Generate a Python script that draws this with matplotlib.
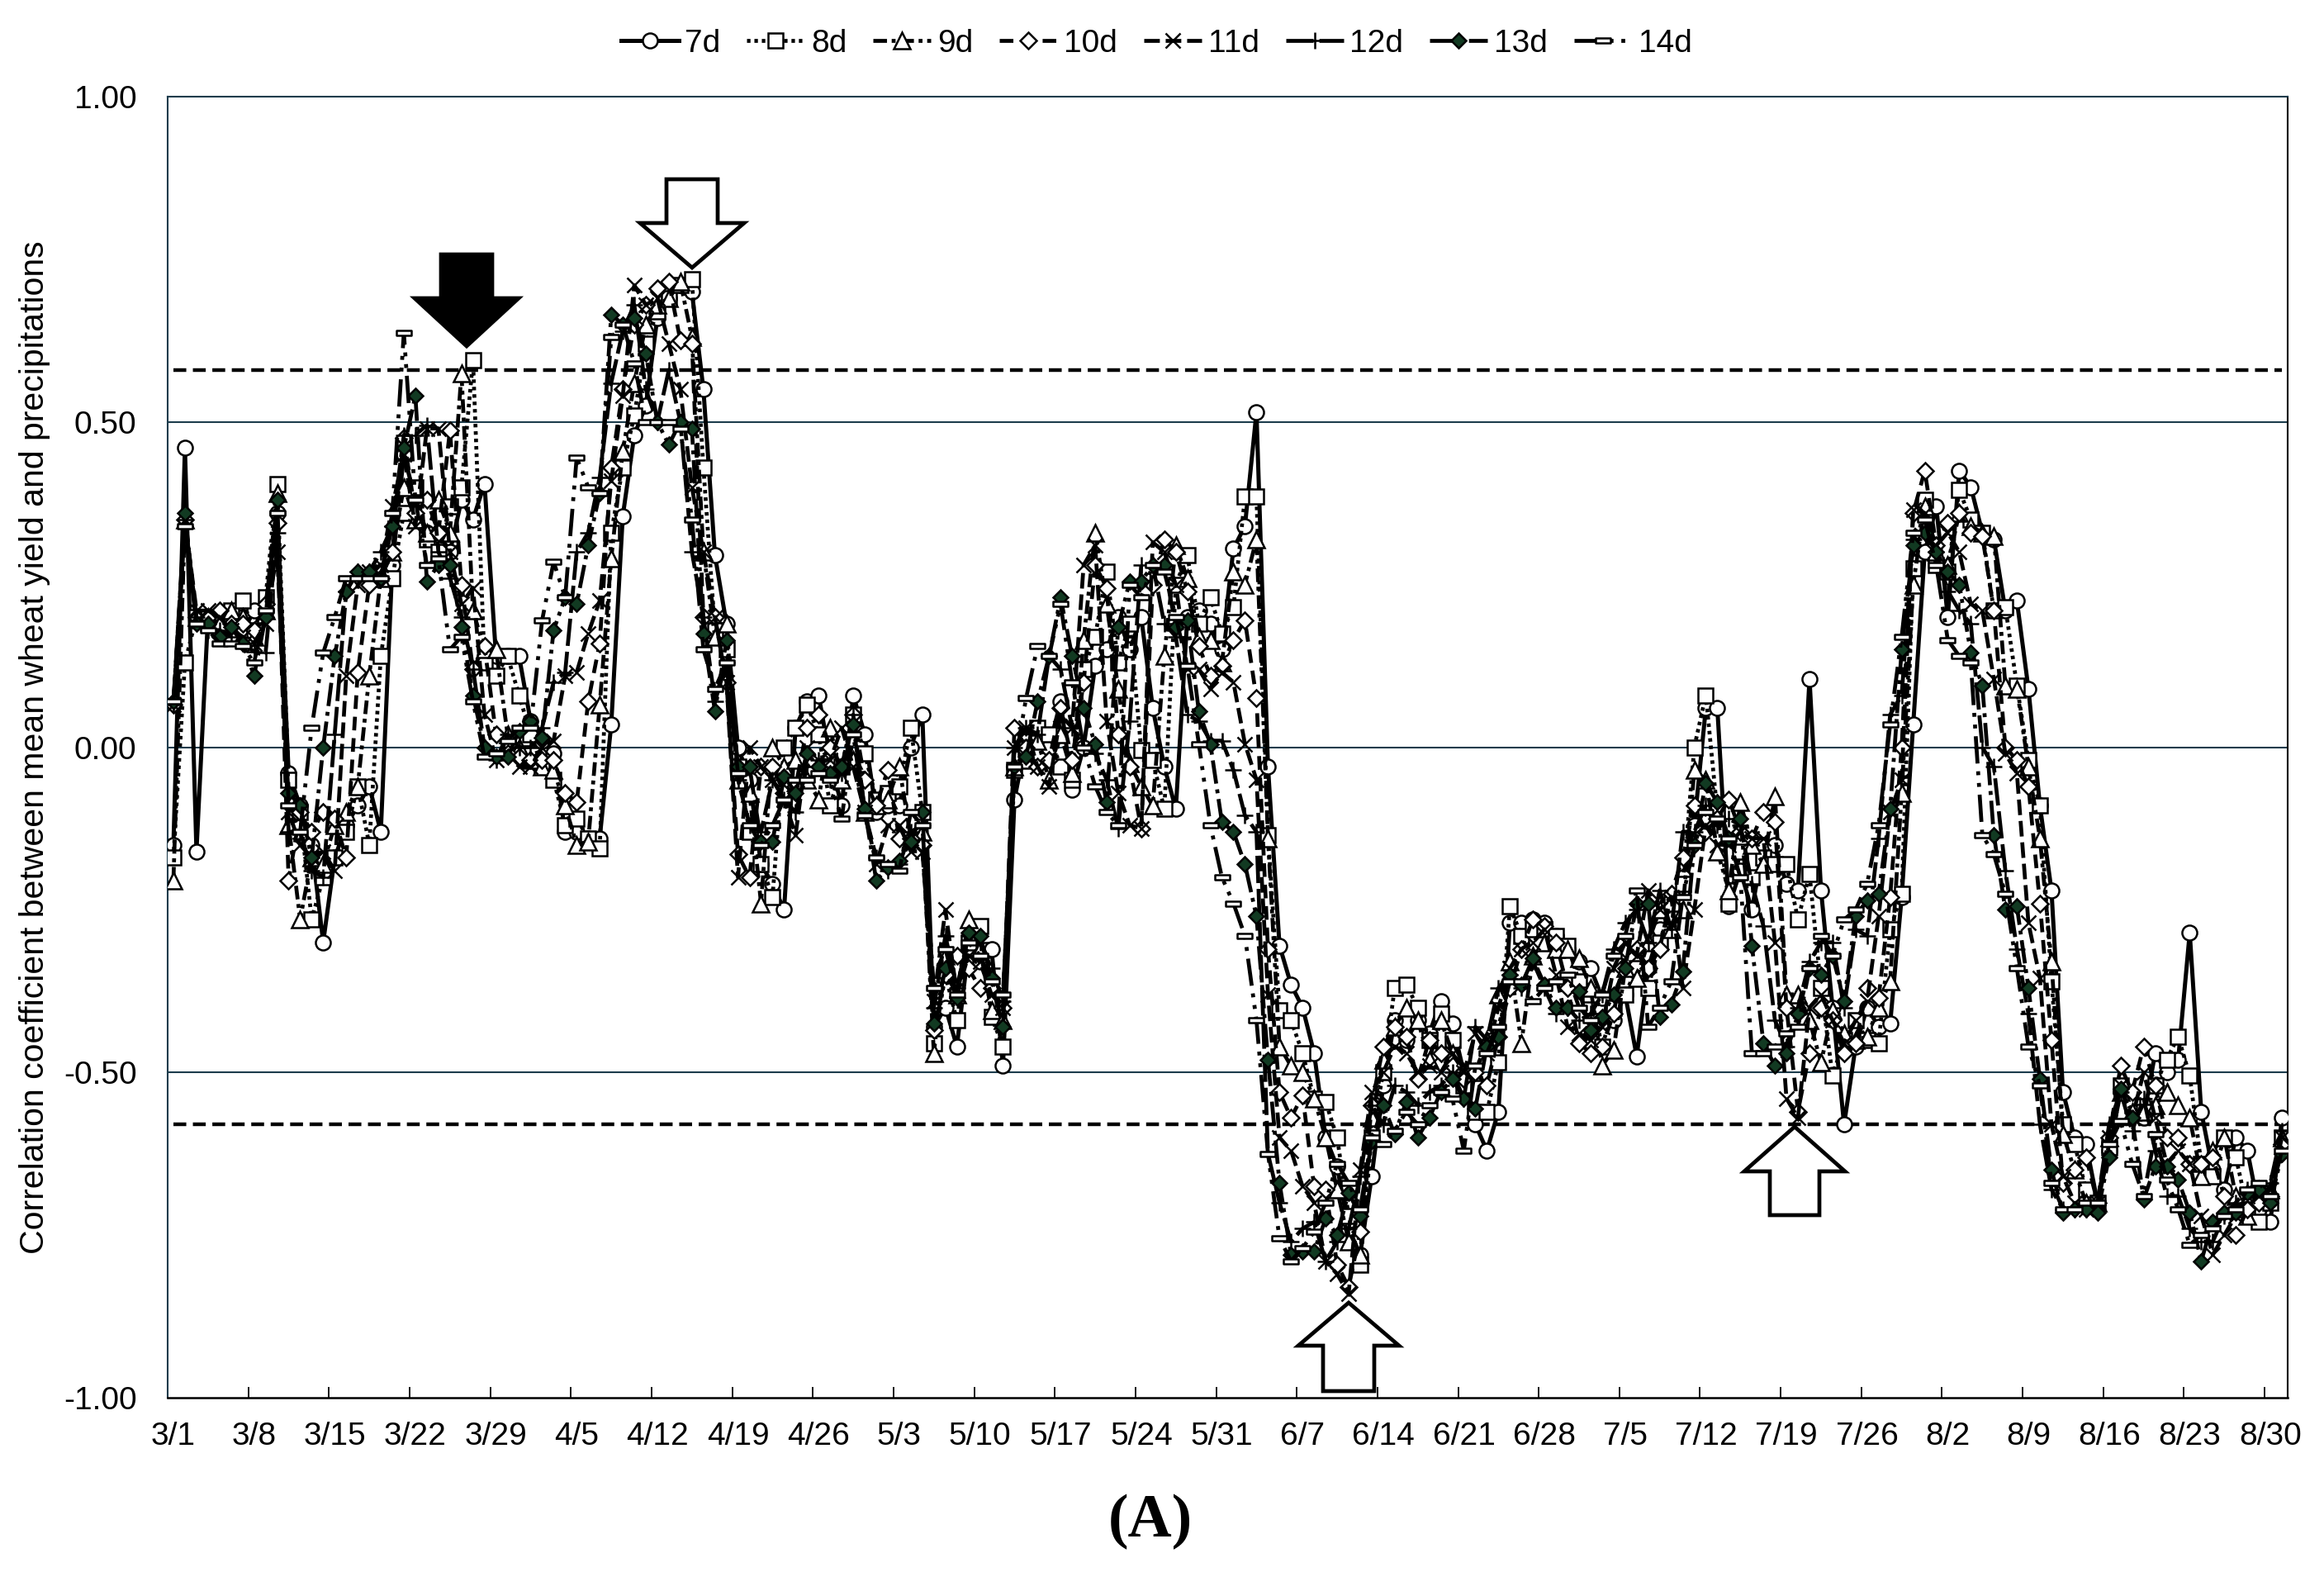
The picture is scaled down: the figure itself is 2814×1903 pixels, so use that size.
import matplotlib
matplotlib.use("Agg")
import matplotlib.pyplot as plt
from matplotlib.path import Path
from matplotlib.patches import Polygon

W, H = 2814, 1903

# etiquetas del eje x, una cada 7 dias
tick_labels = ["3/1", "3/8", "3/15", "3/22", "3/29", "4/5", "4/12", "4/19", "4/26",
               "5/3", "5/10", "5/17", "5/24", "5/31", "6/7", "6/14", "6/21", "6/28",
               "7/5", "7/12", "7/19", "7/26", "8/2", "8/9", "8/16", "8/23", "8/30"]
y_ticks = [-1.0, -0.5, 0.0, 0.5, 1.0]
signif = 0.58

d7 = [-0.15, 0.46, -0.16, 0.20, 0.20, 0.19, 0.20, 0.21, 0.21, 0.36,
      -0.04, -0.09, -0.15, -0.30, -0.17, -0.12, -0.09, -0.06, -0.13, 0.28,
      0.45, 0.38, 0.33, 0.33, 0.30, 0.38, 0.35, 0.405, 0.14, 0.14,
      0.14, 0.04, 0.01, -0.01, -0.13, -0.13, -0.14, -0.14, 0.035, 0.355,
      0.48, 0.525, 0.66, 0.69, 0.71, 0.70, 0.55, 0.295, 0.19, 0.0,
      -0.05, -0.18, -0.21, -0.25, 0.03, 0.07, 0.08, -0.02, -0.09, 0.08,
      0.02, -0.10, -0.09, -0.09, 0.0, 0.05, -0.43, -0.40, -0.46, -0.31,
      -0.33, -0.31, -0.49, -0.08, 0.01, 0.02, 0.0, 0.07, -0.065, 0.0,
      0.125, 0.15, 0.20, 0.15, 0.20, 0.06, -0.03, -0.095, 0.20, 0.21,
      0.19, 0.15, 0.305, 0.34, 0.515, -0.03, -0.305, -0.365, -0.40, -0.47,
      -0.60, -0.645, -0.74, -0.78, -0.66, -0.52, -0.42, -0.45, -0.42, -0.44,
      -0.39, -0.425, -0.50, -0.58, -0.62, -0.56, -0.27, -0.27, -0.265, -0.27,
      -0.29, -0.31, -0.33, -0.34, -0.385, -0.42, -0.38, -0.475, -0.34, -0.28,
      -0.26, -0.20, -0.12, 0.06, 0.06, -0.245, -0.19, -0.25, -0.15, -0.15,
      -0.21, -0.22, 0.105, -0.22, -0.40, -0.58, -0.46, -0.40, -0.43, -0.425,
      -0.23, 0.035, 0.30, 0.37, 0.20, 0.425, 0.40, 0.33, 0.32, 0.21,
      0.225, 0.09, -0.09, -0.22, -0.53, -0.60, -0.61, -0.70, -0.62, -0.53,
      -0.55, -0.57, -0.47, -0.50, -0.48, -0.285, -0.56, -0.65, -0.68, -0.60,
      -0.62, -0.71, -0.73, -0.57]

d8 = [-0.17, 0.13, 0.20, 0.20, 0.20, 0.21, 0.225, 0.18, 0.23, 0.405,
      -0.05, -0.10, -0.265, -0.20, -0.17, -0.13, -0.06, -0.15, 0.14, 0.26,
      0.36, 0.40, 0.32, 0.30, 0.37, 0.40, 0.595, 0.13, 0.11, 0.14,
      0.08, 0.02, -0.03, -0.05, -0.12, -0.11, -0.14, -0.155, 0.33, 0.43,
      0.51, 0.62, 0.67, 0.69, 0.71, 0.72, 0.43, 0.18, 0.15, -0.03,
      -0.13, -0.18, -0.23, 0.0, 0.03, 0.065, 0.02, -0.09, -0.03, 0.05,
      -0.01, -0.08, -0.07, -0.06, 0.03, -0.10, -0.455, -0.35, -0.42, -0.30,
      -0.275, -0.415, -0.46, -0.035, 0.0, 0.03, 0.02, -0.03, -0.05, 0.12,
      0.17, 0.27, 0.13, 0.19, -0.005, -0.02, -0.095, 0.25, 0.295, 0.19,
      0.23, 0.175, 0.215, 0.385, 0.385, -0.135, -0.405, -0.42, -0.47, -0.54,
      -0.545, -0.60, -0.72, -0.795, -0.60, -0.50, -0.37, -0.365, -0.40, -0.45,
      -0.41, -0.45, -0.52, -0.56, -0.56, -0.485, -0.245, -0.29, -0.28, -0.28,
      -0.29, -0.305, -0.36, -0.38, -0.46, -0.40, -0.38, -0.34, -0.37, -0.30,
      -0.24, -0.21, 0.0, 0.08, -0.10, -0.24, -0.16, -0.20, -0.17, -0.18,
      -0.18, -0.265, -0.195, -0.37, -0.505, -0.45, -0.42, -0.45, -0.455, -0.28,
      -0.225, 0.275, 0.38, 0.28, 0.27, 0.395, 0.35, 0.33, 0.21, 0.215,
      0.095, -0.02, -0.09, -0.36, -0.58, -0.61, -0.68, -0.70, -0.615, -0.52,
      -0.55, -0.56, -0.52, -0.48, -0.445, -0.505, -0.64, -0.66, -0.60, -0.63,
      -0.71, -0.73, -0.70, -0.60]

d9 = [-0.205, 0.35, 0.20, 0.20, 0.19, 0.21, 0.20, 0.17, 0.21, 0.39,
      -0.12, -0.265, -0.17, -0.18, -0.12, -0.10, -0.06, 0.11, 0.26, 0.30,
      0.40, 0.35, 0.33, 0.38, 0.33, 0.575, 0.21, 0.15, 0.15, 0.02,
      0.0, -0.02, -0.03, -0.035, -0.09, -0.15, -0.145, 0.065, 0.29, 0.455,
      0.56, 0.65, 0.68, 0.69, 0.715, 0.63, 0.30, 0.17, 0.19, -0.05,
      -0.07, -0.24, 0.0, -0.03, -0.02, -0.05, -0.08, 0.03, -0.05, -0.02,
      -0.10, -0.09, -0.08, -0.03, -0.14, -0.13, -0.47, -0.32, -0.38, -0.265,
      -0.31, -0.405, -0.42, -0.03, -0.02, 0.01, -0.05, 0.02, -0.04, 0.165,
      0.33, 0.22, 0.09, -0.025, -0.06, -0.09, 0.14, 0.31, 0.26, 0.17,
      0.165, 0.13, 0.27, 0.25, 0.32, -0.14, -0.46, -0.49, -0.50, -0.54,
      -0.60, -0.68, -0.76, -0.78, -0.57, -0.48, -0.43, -0.40, -0.42, -0.48,
      -0.42, -0.47, -0.50, -0.50, -0.45, -0.38, -0.33, -0.455, -0.32, -0.30,
      -0.31, -0.31, -0.325, -0.37, -0.49, -0.465, -0.34, -0.355, -0.30, -0.25,
      -0.28, -0.25, -0.035, -0.05, -0.16, -0.22, -0.085, -0.15, -0.18, -0.075,
      -0.38, -0.38, -0.42, -0.485, -0.405, -0.44, -0.45, -0.445, -0.40, -0.36,
      -0.07, 0.25, 0.37, 0.30, 0.28, 0.36, 0.34, 0.33, 0.325, 0.095,
      0.09, -0.03, -0.14, -0.33, -0.595, -0.65, -0.70, -0.70, -0.60, -0.53,
      -0.56, -0.56, -0.55, -0.53, -0.55, -0.57, -0.66, -0.62, -0.60, -0.69,
      -0.72, -0.68, -0.68, -0.60]

d10 = [0.065, 0.35, 0.20, 0.20, 0.21, 0.19, 0.19, 0.18, 0.22, 0.345,
       -0.205, -0.10, -0.13, -0.10, -0.11, -0.17, 0.115, 0.25, 0.26, 0.30,
       0.475, 0.36, 0.38, 0.33, 0.487, 0.25, 0.12, 0.155, 0.02, -0.01,
       -0.015, -0.02, -0.02, -0.02, -0.07, -0.085, 0.07, 0.16, 0.43, 0.55,
       0.65, 0.68, 0.705, 0.715, 0.625, 0.62, 0.20, 0.20, 0.10, -0.165,
       -0.20, -0.03, -0.03, -0.07, -0.06, 0.03, 0.05, 0.0, -0.03, 0.05,
       -0.05, -0.09, -0.035, -0.14, -0.14, -0.15, -0.435, -0.35, -0.32, -0.34,
       -0.37, -0.37, -0.40, 0.03, 0.0, -0.03, -0.02, 0.06, -0.02, 0.10,
       0.28, 0.245, 0.02, -0.03, -0.125, 0.25, 0.32, 0.30, 0.24, 0.155,
       0.11, 0.125, 0.165, 0.195, 0.075, -0.31, -0.53, -0.57, -0.535, -0.675,
       -0.68, -0.795, -0.83, -0.745, -0.55, -0.46, -0.43, -0.445, -0.51, -0.45,
       -0.47, -0.49, -0.51, -0.50, -0.52, -0.445, -0.37, -0.31, -0.265, -0.275,
       -0.30, -0.37, -0.455, -0.47, -0.46, -0.41, -0.31, -0.31, -0.34, -0.31,
       -0.225, -0.17, -0.09, -0.13, -0.11, -0.08, -0.13, -0.14, -0.10, -0.115,
       -0.40, -0.56, -0.47, -0.40, -0.42, -0.47, -0.455, -0.37, -0.385, -0.23,
       0.0, 0.36, 0.425, 0.31, 0.345, 0.36, 0.33, 0.325, 0.21, 0.0,
       -0.02, -0.06, -0.24, -0.45, -0.67, -0.65, -0.63, -0.70, -0.60, -0.49,
       -0.53, -0.46, -0.52, -0.60, -0.60, -0.64, -0.64, -0.63, -0.69, -0.75,
       -0.71, -0.70, -0.69, -0.61]

d11 = [0.065, 0.35, 0.21, 0.21, 0.20, 0.18, 0.17, 0.16, 0.19, 0.30,
       -0.10, -0.15, -0.17, -0.16, -0.19, 0.11, 0.25, 0.27, 0.28, 0.37,
       0.45, 0.34, 0.49, 0.49, 0.30, 0.22, 0.245, 0.05, -0.02, -0.01,
       -0.03, -0.03, 0.0, 0.01, 0.11, 0.115, 0.175, 0.225, 0.41, 0.54,
       0.71, 0.68, 0.69, 0.62, 0.55, 0.40, 0.30, 0.20, 0.10, -0.20,
       0.0, -0.03, -0.05, -0.08, -0.135, 0.0, -0.02, -0.02, 0.03, -0.03,
       -0.10, -0.18, -0.12, -0.12, -0.16, -0.16, -0.39, -0.25, -0.38, -0.32,
       -0.33, -0.38, -0.40, 0.0, 0.03, -0.03, -0.06, 0.05, 0.03, 0.28,
       0.31, 0.04, -0.07, -0.12, -0.125, 0.315, 0.30, 0.25, 0.12, 0.12,
       0.09, 0.115, 0.10, 0.005, -0.05, -0.38, -0.60, -0.62, -0.675, -0.70,
       -0.79, -0.81, -0.84, -0.65, -0.53, -0.50, -0.46, -0.47, -0.50, -0.49,
       -0.50, -0.47, -0.50, -0.44, -0.47, -0.40, -0.34, -0.31, -0.30, -0.28,
       -0.35, -0.43, -0.44, -0.45, -0.43, -0.34, -0.30, -0.32, -0.22, -0.25,
       -0.23, -0.37, -0.25, -0.12, -0.15, -0.15, -0.13, -0.14, -0.14, -0.30,
       -0.54, -0.57, -0.40, -0.38, -0.42, -0.455, -0.42, -0.39, -0.26, -0.10,
       -0.05, 0.365, 0.36, 0.31, 0.33, 0.30, 0.22, 0.21, 0.105, -0.01,
       -0.04, -0.27, -0.355, -0.58, -0.66, -0.70, -0.71, -0.70, -0.60, -0.52,
       -0.57, -0.50, -0.57, -0.64, -0.62, -0.64, -0.72, -0.78, -0.75, -0.72,
       -0.69, -0.69, -0.68, -0.60]

d12 = [0.065, 0.35, 0.20, 0.18, 0.18, 0.17, 0.16, 0.147, 0.145, 0.33,
       -0.13, -0.13, -0.19, -0.20, 0.02, 0.24, 0.27, 0.27, 0.30, 0.34,
       0.48, 0.48, 0.495, 0.30, 0.26, 0.20, 0.12, 0.0, -0.02, 0.02,
       0.0, 0.0, 0.03, 0.10, 0.115, 0.30, 0.33, 0.415, 0.56, 0.64,
       0.68, 0.55, 0.50, 0.58, 0.50, 0.30, 0.20, 0.07, 0.13, -0.05,
       -0.12, -0.13, -0.05, -0.08, -0.10, -0.03, -0.02, -0.05, -0.04, 0.05,
       -0.10, -0.17, -0.19, -0.18, -0.13, -0.12, -0.40, -0.29, -0.37, -0.29,
       -0.30, -0.34, -0.39, 0.0, 0.03, 0.02, 0.14, 0.12, 0.03, 0.0,
       -0.01, -0.05, -0.125, 0.04, 0.28, 0.28, 0.19, 0.17, 0.05, 0.04,
       0.01, 0.01, -0.035, -0.105, -0.13, -0.625, -0.70, -0.76, -0.74, -0.73,
       -0.79, -0.76, -0.74, -0.66, -0.55, -0.58, -0.52, -0.53, -0.55, -0.53,
       -0.52, -0.50, -0.54, -0.43, -0.45, -0.37, -0.35, -0.37, -0.33, -0.37,
       -0.41, -0.40, -0.42, -0.41, -0.38, -0.31, -0.27, -0.25, -0.30, -0.22,
       -0.28, -0.13, -0.13, -0.09, -0.12, -0.11, -0.12, -0.21, -0.275, -0.42,
       -0.46, -0.40, -0.33, -0.30, -0.30, -0.40, -0.28, -0.29, -0.14, 0.05,
       0.08, 0.32, 0.33, 0.30, 0.24, 0.21, 0.19, 0.0, -0.03, -0.19,
       -0.31, -0.41, -0.58, -0.68, -0.71, -0.71, -0.71, -0.70, -0.58, -0.53,
       -0.59, -0.54, -0.62, -0.69, -0.69, -0.74, -0.76, -0.76, -0.72, -0.70,
       -0.68, -0.68, -0.67, -0.59]

d13 = [0.07, 0.36, 0.19, 0.19, 0.17, 0.185, 0.16, 0.11, 0.20, 0.38,
       -0.07, -0.09, -0.17, 0.0, 0.14, 0.24, 0.27, 0.27, 0.26, 0.34,
       0.46, 0.54, 0.255, 0.28, 0.28, 0.185, 0.08, 0.0, -0.015, -0.015,
       0.025, 0.04, 0.015, 0.18, 0.23, 0.22, 0.31, 0.39, 0.665, 0.65,
       0.66, 0.605, 0.50, 0.465, 0.50, 0.49, 0.175, 0.055, 0.165, -0.03,
       -0.03, -0.145, -0.145, -0.045, -0.07, -0.01, -0.03, -0.04, -0.03, 0.035,
       -0.095, -0.205, -0.185, -0.175, -0.145, -0.10, -0.425, -0.34, -0.385, -0.285,
       -0.29, -0.355, -0.43, -0.03, -0.015, 0.07, 0.14, 0.23, 0.14, 0.06,
       0.005, -0.085, 0.185, 0.255, 0.255, 0.28, 0.28, 0.185, 0.195, 0.055,
       0.005, -0.115, -0.13, -0.18, -0.26, -0.48, -0.67, -0.78, -0.775, -0.775,
       -0.725, -0.75, -0.685, -0.72, -0.605, -0.55, -0.595, -0.545, -0.60, -0.57,
       -0.53, -0.51, -0.54, -0.555, -0.46, -0.445, -0.35, -0.365, -0.325, -0.365,
       -0.40, -0.40, -0.375, -0.435, -0.415, -0.38, -0.34, -0.24, -0.24, -0.415,
       -0.395, -0.345, -0.15, -0.055, -0.085, -0.14, -0.11, -0.305, -0.455, -0.49,
       -0.47, -0.41, -0.34, -0.35, -0.32, -0.39, -0.26, -0.235, -0.225, -0.095,
       0.15, 0.31, 0.33, 0.30, 0.27, 0.25, 0.145, 0.095, -0.135, -0.25,
       -0.245, -0.37, -0.51, -0.65, -0.715, -0.71, -0.71, -0.715, -0.63, -0.525,
       -0.57, -0.695, -0.645, -0.645, -0.665, -0.715, -0.79, -0.73, -0.715, -0.715,
       -0.685, -0.68, -0.70, -0.625]

d14 = [0.07, 0.34, 0.19, 0.18, 0.16, 0.16, 0.155, 0.13, 0.21, 0.36,
       -0.09, -0.13, 0.03, 0.145, 0.20, 0.26, 0.26, 0.26, 0.26, 0.36,
       0.637, 0.38, 0.28, 0.29, 0.15, 0.17, 0.07, -0.015, -0.01, 0.01,
       0.03, 0.03, 0.195, 0.285, 0.23, 0.445, 0.40, 0.39, 0.63, 0.65,
       0.59, 0.50, 0.50, 0.50, 0.49, 0.35, 0.15, 0.09, 0.13, -0.04,
       -0.12, -0.15, -0.12, -0.08, -0.05, -0.05, -0.04, -0.05, -0.11, 0.02,
       -0.105, -0.17, -0.18, -0.19, -0.10, -0.12, -0.37, -0.31, -0.38, -0.30,
       -0.32, -0.36, -0.38, -0.03, 0.075, 0.155, 0.14, 0.22, 0.10, 0.0,
       -0.06, -0.10, -0.12, 0.25, 0.23, 0.28, 0.27, 0.20, 0.125, 0.005,
       -0.12, -0.20, -0.24, -0.29, -0.42, -0.625, -0.755, -0.79, -0.77, -0.745,
       -0.70, -0.64, -0.67, -0.71, -0.60, -0.61, -0.59, -0.56, -0.58, -0.55,
       -0.53, -0.54, -0.62, -0.49, -0.47, -0.43, -0.36, -0.36, -0.39, -0.37,
       -0.36, -0.35, -0.40, -0.42, -0.38, -0.32, -0.29, -0.22, -0.43, -0.40,
       -0.36, -0.23, -0.15, -0.10, -0.11, -0.14, -0.20, -0.47, -0.47, -0.46,
       -0.44, -0.43, -0.34, -0.29, -0.32, -0.265, -0.25, -0.21, -0.12, 0.035,
       0.17, 0.33, 0.35, 0.28, 0.165, 0.14, 0.13, -0.135, -0.165, -0.225,
       -0.34, -0.46, -0.52, -0.67, -0.71, -0.71, -0.70, -0.70, -0.61, -0.575,
       -0.64, -0.69, -0.595, -0.665, -0.71, -0.765, -0.75, -0.74, -0.72, -0.71,
       -0.68, -0.67, -0.69, -0.62]

series = [d7, d8, d9, d10, d11, d12, d13, d14]
names = ["7d", "8d", "9d", "10d", "11d", "12d", "13d", "14d"]
for s in series:
    assert len(s) == 184

# marcador del 14d: rectangulo plano
flat = Path([(-1, -0.3), (1, -0.3), (1, 0.3), (-1, 0.3), (-1, -0.3)], closed=True)
styles = [
    dict(ls="-", lw=3.6, marker="o", mfc="white", mec="black", ms=13),
    dict(ls=(0, (0.9, 1.0)), lw=3.4, marker="s", mfc="white", mec="black", ms=12.5),
    dict(ls=(0, (3.5, 1.2, 1, 1.2)), lw=3.4, marker="^", mfc="white", mec="black", ms=14),
    dict(ls=(0, (3.5, 2)), lw=3.4, marker="D", mfc="white", mec="black", ms=10.5),
    dict(ls=(0, (4, 1.5)), lw=3.4, marker="x", mfc="none", mec="black", ms=13),
    dict(ls=(0, (7, 1.5)), lw=3.4, marker="+", mfc="none", mec="black", ms=14),
    dict(ls=(0, (6, 1.5, 1, 1.5)), lw=3.4, marker="D", mfc="#123a22", mec="black", ms=9.5),
    dict(ls=(0, (7, 2, 1, 2, 1, 2)), lw=3.4, marker=flat, mfc="white", mec="black", ms=13),
]

plt.rcParams["font.family"] = ["Liberation Sans", "DejaVu Sans"]
fig = plt.figure(figsize=(W / 100, H / 100), dpi=100)
ax = fig.add_axes([203 / W, 1 - 1692 / H, (2770 - 203) / W, (1692 - 117) / H])

days = [i + 0.5 for i in range(184)]
grid_col = "#1c3c4c"
for v in [0.5, 0.0, -0.5]:
    ax.axhline(v, color=grid_col, lw=1.5, zorder=1)
for v in [signif, -signif]:
    ax.plot(days, [v] * 184, color="black", lw=3.2, ls=(0, (3.5, 1.8)), zorder=2)

for s, name, st in zip(series, names, styles):
    ax.plot(days, s, color="black", mew=1.8, label=name, zorder=3, **st)

ax.set_xlim(0, 184)
ax.set_ylim(-1, 1)
ticks = list(range(0, 184, 7))
ax.set_xticks(ticks)
ax.set_xticklabels([])
for t, lab in zip(ticks, tick_labels):
    ax.text(t + 0.5, -1.0597, lab, ha="center", va="center", fontsize=28)
ax.tick_params(axis="x", direction="in", length=9.4, width=1.3, color="black")
ax.set_yticks(y_ticks)
ax.set_yticklabels([f"{v:.2f}" for v in y_ticks], fontsize=28)
ax.tick_params(axis="y", length=0, pad=27)
ax.set_ylabel("Correlation coefficient between mean wheat yield and precipitations",
              fontsize=29.5)
ax.yaxis.set_label_coords(-0.0553, 0.5)
ax.spines["left"].set_color(grid_col)
ax.spines["top"].set_color(grid_col)
ax.spines["left"].set_linewidth(1.5)
ax.spines["top"].set_linewidth(1.5)
ax.spines["bottom"].set_linewidth(1.8)
ax.spines["right"].set_linewidth(1.5)

ax.legend(loc="center", bbox_to_anchor=(1400 / W, 1 - 53 / H), bbox_transform=fig.transFigure,
          ncol=8, frameon=False, fontsize=28, handlelength=1.8, handletextpad=0.2,
          columnspacing=0.82, borderpad=0, markerscale=1.0)


def arrow(tip_x, tip_y, half_head, half_shaft, shoulder_y, end_y, fc):
    pts = [(tip_x, tip_y), (tip_x + half_head, shoulder_y), (tip_x + half_shaft, shoulder_y),
           (tip_x + half_shaft, end_y), (tip_x - half_shaft, end_y),
           (tip_x - half_shaft, shoulder_y), (tip_x - half_head, shoulder_y)]
    pts = [(x / W, 1 - y / H) for x, y in pts]
    fig.add_artist(Polygon(pts, closed=True, fc=fc, ec="black", lw=3.4, joinstyle="miter",
                           transform=fig.transFigure, zorder=10))


arrow(565, 419, 63, 31, 361, 308, "black")
arrow(838, 324, 63, 31, 270, 217, "white")
arrow(1633, 1577, 61, 31, 1629, 1684, "white")
arrow(2173, 1364, 61, 30, 1418, 1471, "white")

fig.text(1393 / W, 1 - 1842 / H, "(A)", family="Liberation Serif", weight="bold",
         fontsize=53, ha="center", va="center")

fig.savefig("out.png", dpi=100)
